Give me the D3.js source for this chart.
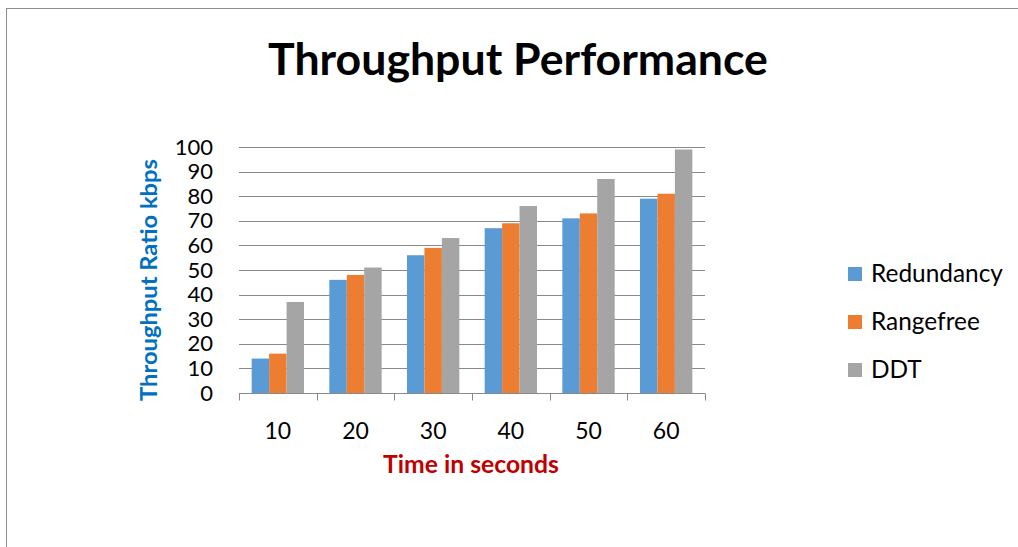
<!DOCTYPE html>
<html>
<head>
<meta charset="utf-8">
<script src="https://cdn.jsdelivr.net/npm/d3@7/dist/d3.min.js"></script>
<style>
html,body{margin:0;padding:0;background:#fff;}
svg{display:block;}
text{font-family:Lato, "Noto Sans", sans-serif;}
</style>
</head>
<body>
<svg id="chart" width="1018" height="547"></svg>
<script>
const categories = ["10", "20", "30", "40", "50", "60"];
const seriesNames = ["Redundancy", "Rangefree", "DDT"];
const redundancy = [14, 46, 56, 67, 71, 79];
const rangefree = [16, 48, 59, 69, 73, 81];
const ddt = [37, 51, 63, 76, 87, 99];
const yTicks = [0, 10, 20, 30, 40, 50, 60, 70, 80, 90, 100];
const colors = ["#5B9BD5", "#ED7D31", "#A5A5A5"];
const titleText = "Throughput Performance";
const yTitle = "Throughput Ratio kbps";
const xTitle = "Time in seconds";

const series = [redundancy, rangefree, ddt];
const svg = d3.select("#chart");

// chart border
svg.append("rect").attr("x", 6.5).attr("y", 8.5).attr("width", 1030).attr("height", 560)
  .attr("fill", "#fff").attr("stroke", "#8e8e8e").attr("stroke-width", 1);

const pLeft = 239, pRight = 705, pTop = 147, pBottom = 393;
const x0 = d3.scaleBand().domain(categories).range([pLeft, pRight]).padding(0);
const groupPad = x0.bandwidth() * 0.163;
const x1 = d3.scaleBand().domain(seriesNames).range([groupPad, x0.bandwidth() - groupPad]).padding(0);
const y = d3.scaleLinear().domain([0, 100]).range([pBottom, pTop]);

// gridlines
svg.append("g").selectAll("line").data(yTicks.filter(d => d > 0)).join("line")
  .attr("x1", pLeft).attr("x2", pRight)
  .attr("y1", d => Math.round(y(d)) + 0.5).attr("y2", d => Math.round(y(d)) + 0.5)
  .attr("stroke", "#898989").attr("stroke-width", 1);

// y axis
const yAxis = svg.append("g").attr("transform", `translate(${pLeft},0)`)
  .call(d3.axisLeft(y).tickValues(yTicks).tickSize(0).tickPadding(26));
yAxis.select(".domain").remove();
yAxis.selectAll("text").attr("font-size", 22).attr("fill", "#000")
  .style("font-family", "Lato, 'Noto Sans', sans-serif");

// bars
const groups = svg.append("g").selectAll("g").data(categories).join("g")
  .attr("transform", d => `translate(${x0(d)},0)`);
groups.selectAll("rect").data((d, i) => seriesNames.map((s, j) => ({s, j, v: series[j][i]}))).join("rect")
  .attr("x", d => x1(d.s)).attr("width", x1.bandwidth())
  .attr("y", d => y(d.v)).attr("height", d => y(0) - y(d.v))
  .attr("fill", (d) => colors[d.j]);

// x axis
const xAxis = svg.append("g").attr("transform", `translate(0,${Math.round(y(0)) + 0.5})`)
  .call(d3.axisBottom(x0).tickSize(0).tickPadding(29));
xAxis.select(".domain").attr("stroke", "#898989").attr("d", `M${pLeft},0H${pRight}`);
xAxis.selectAll("text").attr("font-size", 23).attr("fill", "#000")
  .style("font-family", "Lato, 'Noto Sans', sans-serif");
// tick marks at category boundaries
const bounds = categories.map(c => x0(c)).concat([pRight]);
xAxis.append("g").selectAll("line").data(bounds).join("line")
  .attr("x1", d => Math.round(d) + 0.5).attr("x2", d => Math.round(d) + 0.5)
  .attr("y1", 0).attr("y2", 7).attr("stroke", "#898989");

function fit(sel, w) {
  const cur = sel.node().getComputedTextLength();
  const fs = parseFloat(sel.attr("font-size"));
  const nf = fs * w / cur;
  sel.attr("font-size", nf);
  return nf;
}

// title
const t = svg.append("text").attr("x", 518).attr("y", 75).attr("text-anchor", "middle")
  .attr("font-size", 40).attr("font-weight", "bold").attr("fill", "#000").text(titleText);
fit(t, 500);

// y title
const yt = svg.append("text").attr("transform", "translate(157,280) rotate(-90)")
  .attr("text-anchor", "middle").attr("font-size", 20).attr("font-weight", "bold")
  .attr("fill", "#0070C0").text(yTitle);
fit(yt, 242);

// x title
const xt = svg.append("text").attr("x", 471).attr("y", 473).attr("text-anchor", "middle")
  .attr("font-size", 21).attr("font-weight", "bold").attr("fill", "#C00000").text(xTitle);
fit(xt, 176);

// legend
const lg = svg.append("g").selectAll("g").data(seriesNames).join("g")
  .attr("transform", (d, i) => `translate(848,${267 + i * 48})`);
lg.append("rect").attr("width", 14).attr("height", 14).attr("fill", (d, i) => colors[i]);
const lgText = lg.append("text").attr("x", 23).attr("y", 14.5).attr("font-size", 22).attr("fill", "#000").text(d => d);
const lfs = fit(d3.select(lgText.nodes()[0]), 132);
lgText.attr("font-size", lfs);
</script>
</body>
</html>
